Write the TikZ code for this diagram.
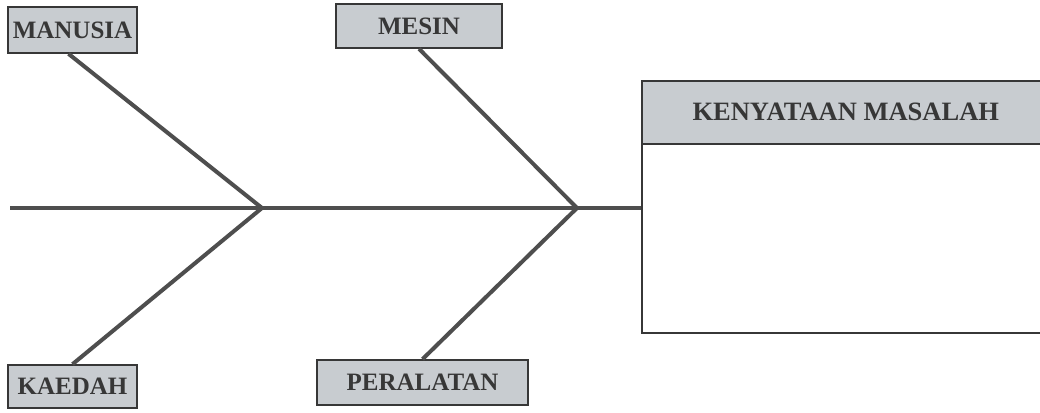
\documentclass[tikz,border=0pt]{standalone}
\usepackage{fontspec}
\setmainfont{Liberation Serif}
\definecolor{boxgray}{RGB}{200,204,208}
\definecolor{bonegray}{RGB}{78,78,78}
\definecolor{inkgray}{RGB}{55,55,55}
\tikzset{
  cause/.style={draw=inkgray, line width=1.6pt, fill=boxgray, font=\fontsize{25}{29}\selectfont\bfseries, text=inkgray, inner sep=0pt},
  bone/.style={draw=bonegray, line width=4pt},
}
\begin{document}
\begin{tikzpicture}[x=1pt, y=-1pt]
\clip (0,0) rectangle (1040,412);

\node [cause, minimum width=129pt, minimum height=46pt] (manusia) at (72.5, 30) {MANUSIA};
\node [cause, minimum width=166pt, minimum height=44pt] (mesin) at (419, 26) {MESIN};
\node [cause, minimum width=129pt, minimum height=43pt] (kaedah) at (72.5, 386.5) {KAEDAH};
\node [cause, minimum width=211pt, minimum height=45pt] (peralatan) at (422.5, 382.5) {PERALATAN};

% problem statement box, right side runs off the page
\node [draw=inkgray, line width=1.6pt, fill=white, minimum width=420pt, minimum height=252pt, anchor=north west] (masalah) at (641, 80) {};
\node [cause, font=\fontsize{26.5}{30}\selectfont\bfseries, minimum width=420pt, minimum height=63pt, anchor=north west] (tajuk) at (641, 80) {\hspace{-12pt}KENYATAAN MASALAH};

\coordinate (ekor) at (10, 208);
\coordinate (sendi1) at (262, 208);
\coordinate (sendi2) at (577, 208);

\draw [bone, line width=3.5pt] (ekor) -- (masalah.west |- ekor);
\draw [bone] ([xshift=-4pt]manusia.south) -- (sendi1);
\draw [bone] (kaedah.north) -- (sendi1);
\draw [bone] (mesin.south) -- (sendi2);
\draw [bone] (peralatan.north) -- (sendi2);
\end{tikzpicture}
\end{document}
